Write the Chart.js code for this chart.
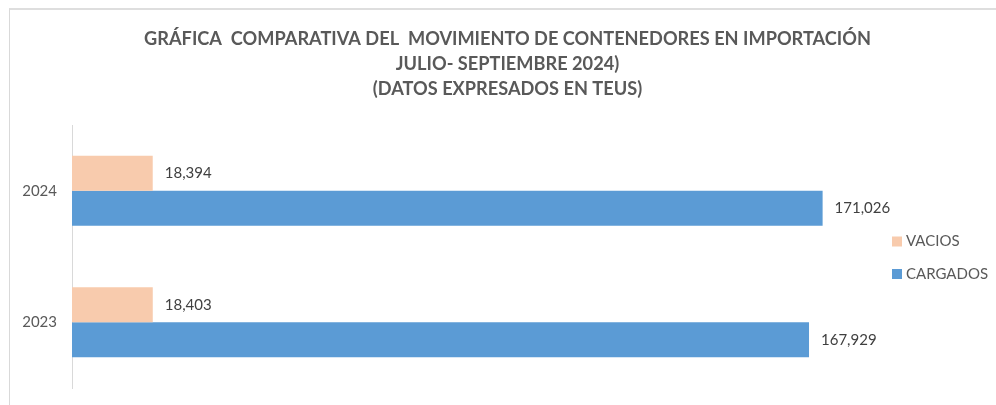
<!DOCTYPE html>
<html><head><meta charset="utf-8">
<script src="https://cdn.jsdelivr.net/npm/chart.js@4.4.1/dist/chart.umd.min.js"></script>
<style>
html,body{margin:0;padding:0;background:#fff;overflow:hidden;width:996px;height:405px;}
#frame{position:absolute;left:9px;top:8px;width:1000px;height:410px;border-top:2px solid #dedede;border-left:1px solid #d9d9d9;}
#wrap{position:absolute;left:0;top:0;width:996px;height:405px;}
canvas{display:block;}
</style></head><body>
<div id="frame"></div>
<div id="wrap"><canvas id="c" width="996" height="405" style="width:996px;height:405px"></canvas></div>
<script>
const categories = ['2024', '2023'];
const vacios = [18394, 18403];
const cargados = [171026, 167929];
const seriesNames = ['VACIOS', 'CARGADOS'];
const titleLines = [
  'GRÁFICA  COMPARATIVA DEL  MOVIMIENTO DE CONTENEDORES EN IMPORTACIÓN',
  'JULIO- SEPTIEMBRE 2024)',
  '(DATOS EXPRESADOS EN TEUS)'
];
const xMax = 180000;

const FONT = 'Lato, "Open Sans", sans-serif';

const titlePlugin = {
  id: 'customTitle',
  afterDraw(chart) {
    const ctx = chart.ctx;
    ctx.save();
    ctx.font = 'bold 18.2px ' + FONT;
    ctx.fillStyle = '#595959';
    ctx.textAlign = 'center';
    ctx.textBaseline = 'alphabetic';
    const baselines = [44.5, 70, 95];
    titleLines.forEach((t, i) => ctx.fillText(t, 507.5, baselines[i]));
    ctx.restore();
  }
};

const valueLabels = {
  id: 'valueLabels',
  afterDatasetsDraw(chart) {
    const ctx = chart.ctx;
    ctx.save();
    ctx.font = '15px ' + FONT;
    ctx.fillStyle = '#404040';
    ctx.textAlign = 'left';
    ctx.textBaseline = 'middle';
    chart.data.datasets.forEach((ds, di) => {
      const meta = chart.getDatasetMeta(di);
      meta.data.forEach((bar, i) => {
        ctx.fillText(ds.data[i].toLocaleString('en-US'), bar.x + 12, bar.y);
      });
    });
    ctx.restore();
  }
};

const legendPlugin = {
  id: 'customLegend',
  afterDraw(chart) {
    const ctx = chart.ctx;
    ctx.save();
    ctx.font = '15px ' + FONT;
    ctx.textAlign = 'left';
    ctx.textBaseline = 'middle';
    const x0 = 892, ys = [241.5, 274];
    chart.data.datasets.forEach((ds, i) => {
      ctx.fillStyle = ds.backgroundColor;
      ctx.fillRect(x0, ys[i] - 5, 10, 10);
      ctx.fillStyle = '#595959';
      ctx.fillText(ds.label, x0 + 14, ys[i]);
    });
    ctx.restore();
  }
};

new Chart(document.getElementById('c'), {
  type: 'bar',
  data: {
    labels: categories,
    datasets: [
      { label: seriesNames[0], data: vacios, backgroundColor: '#F8CBAD', borderWidth: 0 },
      { label: seriesNames[1], data: cargados, backgroundColor: '#5B9BD5', borderWidth: 0 }
    ]
  },
  options: {
    indexAxis: 'y',
    responsive: false,
    animation: false,
    devicePixelRatio: 1,
    layout: { padding: { left: 18, right: 134, top: 125, bottom: 17 } },
    plugins: { legend: { display: false }, title: { display: false }, tooltip: { enabled: false } },
    datasets: { bar: { categoryPercentage: 0.532, barPercentage: 1 } },
    scales: {
      x: { display: false, min: 0, max: xMax },
      y: {
        grid: { display: false, drawTicks: false },
        border: { display: true, color: '#d9d9d9', width: 1 },
        ticks: { color: '#595959', font: { family: FONT, size: 15 }, padding: 15 },
        afterFit(scale) { scale.width = 54; scale.paddingTop = 0; scale.paddingBottom = 0; }
      }
    }
  },
  plugins: [titlePlugin, valueLabels, legendPlugin]
});
</script>
</body></html>
